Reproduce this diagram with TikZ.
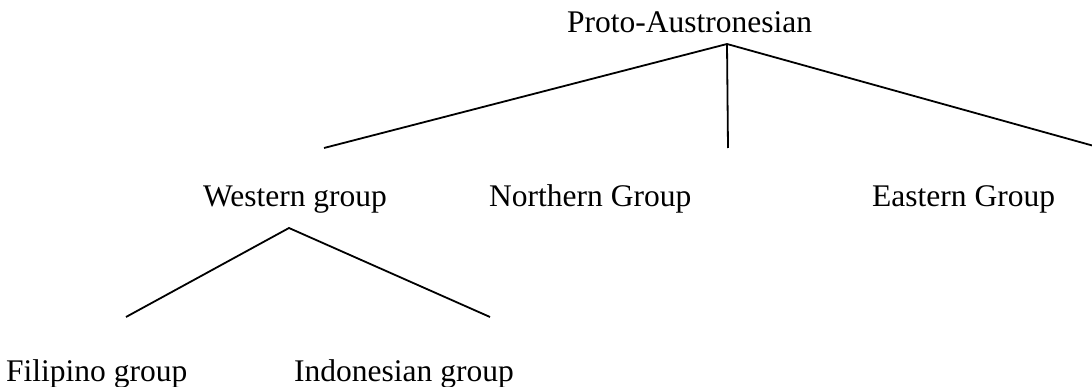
\documentclass[tikz,border=0pt]{standalone}
\usepackage{fontspec}
\setmainfont{Liberation Serif}
\begin{document}
\begin{tikzpicture}[x=1pt,y=-1pt,
  lbl/.style={anchor=base west,inner sep=0pt,font=\fontsize{31.5}{38}\selectfont},
  branch/.style={line width=1.8pt}]
\useasboundingbox (0,0) rectangle (1092,387);
\node[lbl] (proto) at (567,33) {Proto-Austronesian};
\node[lbl] (west) at (203,207) {Western group};
\node[lbl] (north) at (489,207) {Northern Group};
\node[lbl] (east) at (872,207) {Eastern Group};
\node[lbl] (fil) at (6,381) {Filipino group};
\node[lbl] (indo) at (294,381) {Indonesian group};
\coordinate (pa) at (727,44);
\coordinate (pw) at (324,148);
\coordinate (pn) at (728,148);
\coordinate (pe) at (1094,146);
\coordinate (wa) at (289,228);
\coordinate (wf) at (126,317);
\coordinate (wi) at (490,317);
\draw[branch] (pw) -- (pa) -- (pe);
\draw[branch] (pa) -- (pn);
\draw[branch] (wf) -- (wa) -- (wi);
\end{tikzpicture}
\end{document}
